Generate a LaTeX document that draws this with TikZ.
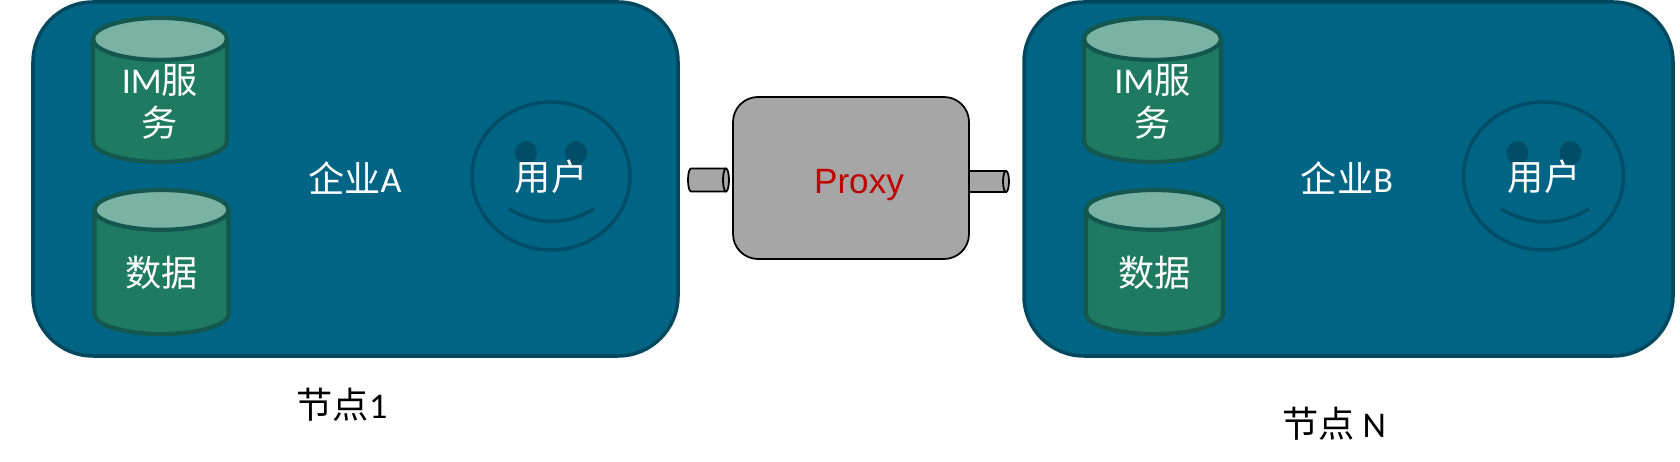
\documentclass[tikz,border=0pt]{standalone}
\usepackage{fontspec}
\setmainfont{Carlito}
\newfontfamily\cjk{Noto Sans CJK SC}
\newfontfamily\arial{Liberation Sans}
\usetikzlibrary{shapes.geometric}
\definecolor{corpfill}{HTML}{006584}
\definecolor{corpline}{HTML}{00485F}
\definecolor{dbbody}{HTML}{1E7B62}
\definecolor{dbtop}{HTML}{7AB3A3}
\definecolor{dbline}{HTML}{14574F}
\definecolor{faceline}{HTML}{004D68}
\definecolor{proxyfill}{HTML}{A6A6A6}
\definecolor{proxytext}{HTML}{C00000}
\tikzset{
	corpbox/.style={draw=corpline,fill=corpfill,line width=1pt,rounded corners=0.6cm,inner sep=0},
	dbcyl/.style={cylinder,shape border rotate=90,shape aspect=0.55,draw=dbline,line width=1.2pt,
		cylinder uses custom fill,cylinder body fill=dbbody,cylinder end fill=dbtop,
		inner sep=0,minimum width=1.34cm,minimum height=1.44cm,text=white,align=center},
	stubline/.style={draw=black,fill=proxyfill,line width=0.5pt},
	face/.style={ellipse,draw=faceline,line width=1pt,inner sep=0},
	eye/.style={ellipse,fill=faceline,inner sep=0,minimum width=0.22cm,minimum height=0.24cm},
	whitetext/.style={text=white,inner sep=0},
	blacktext/.style={text=black,inner sep=0}
}
\newcommand{\zh}[1]{{\cjk #1}}
\begin{document}
\begin{tikzpicture}[font=\fontsize{10.3}{12.2}\selectfont]
	\useasboundingbox (0,0) rectangle (16.8,4.62);
	%Company A
	\node [corpbox,minimum width=6.45cm,minimum height=3.54cm] (boxA) at (3.555,2.83) {};
	\node [dbcyl] (imA) at (1.60,3.605) {IM\zh{服}\\\zh{务}};
	\node [dbcyl] (dataA) at (1.615,1.89) {\zh{数据}};
	\node [whitetext] (nameA) at (3.55,2.84) {\zh{企业}A};
	%User A
	\node [face,minimum width=1.58cm,minimum height=1.48cm] (faceA) at (5.51,2.86) {};
	\node [eye] (eyeAl) at (5.26,3.09) {};
	\node [eye] (eyeAr) at (5.76,3.09) {};
	\draw [draw=faceline,line width=1pt] (5.09,2.53) to [bend right=30] (5.94,2.53);
	\node [whitetext] (userA) at (5.51,2.85) {\zh{用户}};
	\node [blacktext] (nodeA) at (3.42,0.57) {\zh{节点}1};
	%Stubs
	\draw [stubline] (7.26,2.935) to (6.91,2.935) arc [start angle=90,end angle=270,x radius=0.03,y radius=0.115] to (7.26,2.705);
	\draw [stubline] (7.26,2.82) ellipse [x radius=0.03,y radius=0.115];
	\draw [stubline] (9.70,2.91) to (10.06,2.91) to (10.06,2.70) to (9.70,2.70);
	\draw [stubline] (10.06,2.805) ellipse [x radius=0.03,y radius=0.105];
	%Proxy
	\node [draw=black,fill=proxyfill,line width=0.5pt,rounded corners=0.25cm,inner sep=0,
		minimum width=2.36cm,minimum height=1.62cm] (proxy) at (8.51,2.84) {};
	\node [inner sep=0,text=proxytext,font=\arial\fontsize{10}{12}\selectfont] (proxytext) at (8.59,2.77) {Proxy};
	%Company B
	\node [corpbox,minimum width=6.49cm,minimum height=3.54cm] (boxB) at (13.485,2.83) {};
	\node [dbcyl,minimum width=1.37cm] (imB) at (11.525,3.605) {IM\zh{服}\\\zh{务}};
	\node [dbcyl,minimum width=1.37cm] (dataB) at (11.545,1.89) {\zh{数据}};
	\node [whitetext] (nameB) at (13.47,2.84) {\zh{企业}B};
	%User B
	\node [face,minimum width=1.6cm,minimum height=1.48cm] (faceB) at (15.435,2.86) {};
	\node [eye] (eyeBl) at (15.175,3.09) {};
	\node [eye] (eyeBr) at (15.705,3.09) {};
	\draw [draw=faceline,line width=1pt] (15.01,2.53) to [bend right=30] (15.89,2.53);
	\node [whitetext] (userB) at (15.44,2.85) {\zh{用户}};
	\node [blacktext] (nodeB) at (13.34,0.38) {\zh{节点} N};
\end{tikzpicture}
\end{document}
